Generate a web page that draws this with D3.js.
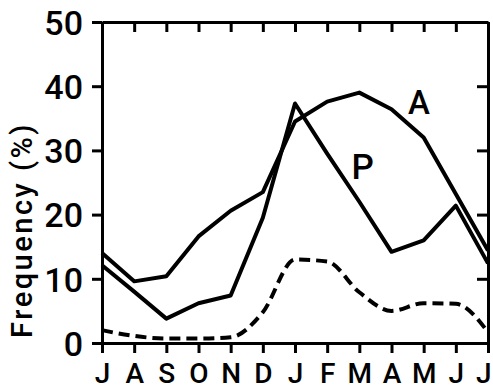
<!DOCTYPE html>
<html>
<head>
<meta charset="utf-8">
<script src="https://cdn.jsdelivr.net/npm/d3@7"></script>
<style>
  body { margin: 0; background: #fff; }
  svg { display: block; }
  .axis path, .axis line { stroke: #000; stroke-width: 3; }
  .axis text { font-family: Roboto, sans-serif; font-weight: 500; fill: #000; }
  .label { font-family: Roboto, sans-serif; font-weight: 500; fill: #000; }
</style>
</head>
<body>
<svg id="chart" width="493" height="391"></svg>
<script>
const months = ["J", "A", "S", "O", "N", "D", "J", "F", "M", "A", "M", "J", "J"];
const seriesA = [14.0, 9.6, 10.4, 16.6, 20.6, 23.5, 34.5, 37.6, 39.0, 36.4, 32.0, 23.2, 14.4];
const seriesP = [12.1, 8.0, 3.8, 6.2, 7.4, 19.5, 37.3, 29.5, 22.0, 14.2, 16.0, 21.4, 12.4];
const seriesDashed = [2.0, 1.1, 0.7, 0.7, 0.9, 4.8, 13.0, 12.7, 7.9, 5.0, 6.2, 6.1, 1.7];
const yTicks = [0, 10, 20, 30, 40, 50];

const svg = d3.select("#chart");
const margin = { top: 22, right: 5, bottom: 48, left: 102 };
const width = 493 - margin.left - margin.right;
const height = 391 - margin.top - margin.bottom;

const g = svg.append("g").attr("transform", `translate(${margin.left},${margin.top})`);

const x = d3.scaleLinear().domain([0, months.length - 1]).range([0, width]);
const y = d3.scaleLinear().domain([0, 50]).range([height, 0]);

// lines
g.append("path")
  .datum(seriesDashed)
  .attr("fill", "none")
  .attr("stroke", "#000")
  .attr("stroke-width", 4)
  .attr("stroke-dasharray", "11,6")
  .attr("d", d3.line().x((d, i) => x(i)).y((d) => y(d)).curve(d3.curveMonotoneX));

[seriesA, seriesP].forEach((s) => {
  g.append("path")
    .datum(s)
    .attr("fill", "none")
    .attr("stroke", "#000")
    .attr("stroke-width", 4)
    .attr("stroke-linejoin", "round")
    .attr("d", d3.line().x((d, i) => x(i)).y((d) => y(d)));
});

// axes
const idx = d3.range(months.length);

g.append("g")
  .attr("class", "axis")
  .call(d3.axisLeft(y).tickValues(yTicks).tickSize(10).tickSizeOuter(0).tickPadding(9))
  .selectAll("text").style("font-size", "34px").attr("dy", "0.36em");

// month letters kept small enough to fit inside the 391px frame
const bottomLabels = g.append("g")
  .attr("class", "axis")
  .attr("transform", `translate(0,${height})`)
  .call(d3.axisBottom(x).tickValues(idx).tickFormat((i) => months[i]).tickSize(10).tickSizeOuter(0))
  .selectAll("text").style("font-size", "28px").attr("y", 40).attr("dy", 0);

// last J sits against the right edge
bottomLabels.filter((d) => d === months.length - 1)
  .attr("text-anchor", "end")
  .attr("x", 3);

g.append("g")
  .attr("class", "axis")
  .call(d3.axisTop(x).tickValues(idx).tickFormat("").tickSize(-10).tickSizeOuter(0));

g.append("g")
  .attr("class", "axis")
  .attr("transform", `translate(${width},0)`)
  .call(d3.axisRight(y).tickValues(yTicks).tickFormat("").tickSize(-11).tickSizeOuter(0));

// series labels
g.append("text")
  .attr("class", "label")
  .attr("x", x(9.85)).attr("y", y(35.7))
  .attr("text-anchor", "middle")
  .style("font-size", "33px")
  .text("A");

g.append("text")
  .attr("class", "label")
  .attr("x", x(8.1)).attr("y", y(25.6))
  .attr("text-anchor", "middle")
  .style("font-size", "35px")
  .text("P");

// y axis title
svg.append("text")
  .attr("class", "label")
  .attr("transform", "translate(32,230) rotate(-90)")
  .attr("text-anchor", "middle")
  .style("font-size", "29px")
  .style("letter-spacing", "2.5px")
  .text("Frequency (%)");
</script>
</body>
</html>
